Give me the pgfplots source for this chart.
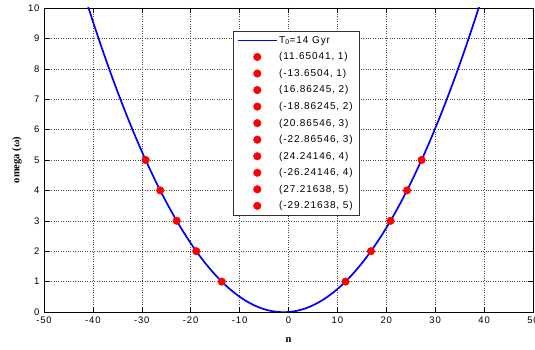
\documentclass[border=0pt]{standalone}
\usepackage{pgfplots}
\pgfplotsset{compat=1.18}
\usepackage{fontspec}
\setmainfont{Liberation Sans}
\newfontfamily\serifb{Liberation Serif}
\newfontfamily\legfont[LetterSpace=9]{Liberation Sans}
\begin{document}
\begin{tikzpicture}
\begin{axis}[
  scale only axis, width=489pt, height=304pt,
  xmin=-50, xmax=50, ymin=0, ymax=10,
  xtick={-50,-40,...,50}, ytick={0,1,...,10},
  tick align=inside, major tick length=5pt,
  tick style={black, line width=0.5pt},
  axis line style={black, line width=0.6pt},
  grid=major, major grid style={black!70, dotted, line width=0.5pt},
  ticklabel style={font=\legfont\fontsize{9.5}{11}\selectfont},
  /pgf/number format/assume math mode=true,
  xticklabel style={yshift=-1pt},
  yticklabel style={xshift=-1pt},
  xlabel={\serifb\bfseries\fontsize{10.5}{12}\selectfont n},
  ylabel={\serifb\bfseries\fontsize{10.5}{12}\selectfont omega (ω)},
  every axis x label/.style={at={(axis description cs:0.5,-0.092)}, anchor=center},
  every axis y label/.style={at={(axis description cs:-0.0552,0.5)}, rotate=90, anchor=center},
  legend style={at={(0.387,0.924)}, anchor=north west, draw=black!80,
     fill=white, font=\legfont\fontsize{10}{12}\selectfont, row sep=3.8pt, inner xsep=4pt, inner ysep=3pt},
  legend cell align=left,
  legend image code/.code={\draw[mark repeat=2,mark phase=2,#1] plot coordinates {(0pt,0pt) (19pt,0pt) (38pt,0pt)};},
  legend image post style={line width=1.7pt},
  dot/.style={only marks, mark=*, mark size=3.8pt, color=red, mark options={fill=red, draw=red, line width=0.4pt}},
  clip=true,
]
\addplot[blue, line width=1.7pt, smooth, mark=none] coordinates {
(-41,10.057) (-40,9.560) (-39,9.075) (-38,8.604) (-37,8.145) (-36,7.698) (-35,7.264) (-34,6.843)
(-33,6.434) (-32,6.038) (-31,5.654) (-30,5.283) (-29,4.925) (-28,4.579) (-27,4.245) (-26,3.925)
(-25,3.616) (-24,3.321) (-23,3.038) (-22,2.767) (-21,2.509) (-20,2.264) (-19,2.031) (-18,1.811)
(-17,1.604) (-16,1.409) (-15,1.226) (-14,1.057) (-13,0.899) (-12,0.755) (-11,0.623) (-10,0.503)
(-9,0.396) (-8,0.302) (-7,0.220) (-6,0.151) (-5,0.094) (-4,0.050) (-3,0.019) (-2,0) (-1,-0.006)
(0,0) (1,0.019) (2,0.050) (3,0.094) (4,0.151) (5,0.220) (6,0.302) (7,0.396) (8,0.503) (9,0.623)
(10,0.755) (11,0.899) (12,1.057) (13,1.226) (14,1.409) (15,1.604) (16,1.811) (17,2.031) (18,2.264)
(19,2.509) (20,2.767) (21,3.038) (22,3.321) (23,3.616) (24,3.925) (25,4.245) (26,4.579) (27,4.925)
(28,5.283) (29,5.654) (30,6.038) (31,6.434) (32,6.843) (33,7.264) (34,7.698) (35,8.145) (36,8.604)
(37,9.075) (38,9.560) (39,10.057)
};
\addlegendentry{T$_{\mathrm{0}}$=14 Gyr}
\addplot[dot] coordinates {(11.65041,1)}; \addlegendentry{(11.65041, 1)}
\addplot[dot] coordinates {(-13.6504,1)}; \addlegendentry{(-13.6504, 1)}
\addplot[dot] coordinates {(16.86245,2)}; \addlegendentry{(16.86245, 2)}
\addplot[dot] coordinates {(-18.86245,2)}; \addlegendentry{(-18.86245, 2)}
\addplot[dot] coordinates {(20.86546,3)}; \addlegendentry{(20.86546, 3)}
\addplot[dot] coordinates {(-22.86546,3)}; \addlegendentry{(-22.86546, 3)}
\addplot[dot] coordinates {(24.24146,4)}; \addlegendentry{(24.24146, 4)}
\addplot[dot] coordinates {(-26.24146,4)}; \addlegendentry{(-26.24146, 4)}
\addplot[dot] coordinates {(27.21638,5)}; \addlegendentry{(27.21638, 5)}
\addplot[dot] coordinates {(-29.21638,5)}; \addlegendentry{(-29.21638, 5)}
\end{axis}
\pgfresetboundingbox
\useasboundingbox ([xshift=-44pt,yshift=-38pt]current axis.south west) rectangle ([xshift=2pt,yshift=8pt]current axis.north east);
\end{tikzpicture}
\end{document}
